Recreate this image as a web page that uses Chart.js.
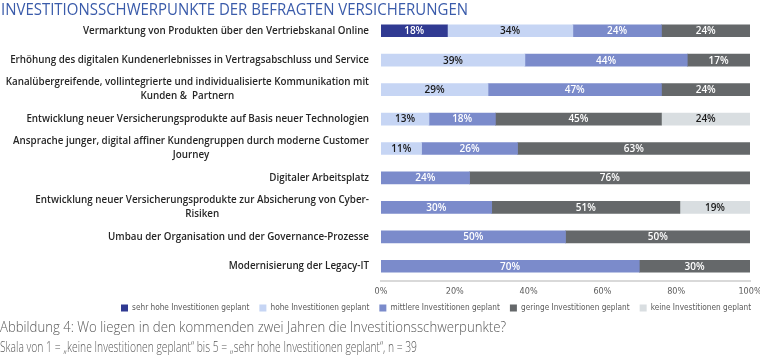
<!DOCTYPE html>
<html>
<head>
<meta charset="utf-8">
<script src="https://cdn.jsdelivr.net/npm/chart.js@4.4.1/dist/chart.umd.min.js"></script>
<style>
  html, body { margin: 0; padding: 0; background: #ffffff; }
  #wrap { position: relative; width: 760px; height: 357px; overflow: hidden; }
  #chart { position: absolute; left: 0; top: 0; }
  .txt { position: absolute; left: 0; white-space: nowrap; transform-origin: 0 0; display: inline-block; }
  #title { top: 0px; font-family: "Open Sans", sans-serif; font-weight: 400; font-size: 17px; line-height: 18px; color: #3A5BAA; left: 1px; }
  #cap1 { top: 318px; font-family: "Open Sans", sans-serif; font-weight: 300; font-size: 14px; line-height: 18px; color: #595959; }
  #cap2 { top: 338px; font-family: "Open Sans", sans-serif; font-weight: 300; font-size: 14px; line-height: 18px; color: #595959; }
</style>
</head>
<body>
<div id="wrap">
  <canvas id="chart" width="760" height="357"></canvas>
  <div id="title" class="txt">INVESTITIONSSCHWERPUNKTE DER BEFRAGTEN VERSICHERUNGEN</div>
  <div id="cap1" class="txt">Abbildung 4: Wo liegen in den kommenden zwei Jahren die Investitionsschwerpunkte?</div>
  <div id="cap2" class="txt">Skala von 1 = „keine Investitionen geplant“ bis 5 = „sehr hohe Investitionen geplant“, n = 39</div>
</div>
<script>
// ---------- DATA ----------
const categories = [
  ["Vermarktung von Produkten über den Vertriebskanal Online"],
  ["Erhöhung des digitalen Kundenerlebnisses in Vertragsabschluss und Service"],
  ["Kanalübergreifende, vollintegrierte und individualisierte Kommunikation mit", "Kunden &  Partnern"],
  ["Entwicklung neuer Versicherungsprodukte auf Basis neuer Technologien"],
  ["Ansprache junger, digital affiner Kundengruppen durch moderne Customer", "Journey"],
  ["Digitaler Arbeitsplatz"],
  ["Entwicklung neuer Versicherungsprodukte zur Absicherung von Cyber-", "Risiken"],
  ["Umbau der Organisation und der Governance-Prozesse"],
  ["Modernisierung der Legacy-IT"]
];
const seriesNames = [
  "sehr hohe Investitionen geplant",
  "hohe Investitionen geplant",
  "mittlere Investitionen geplant",
  "geringe Investitionen geplant",
  "keine Investitionen geplant"
];
const sehrHoch = [18, null, null, null, null, null, null, null, null];
const hoch     = [34, 39, 29, 13, 11, null, null, null, null];
const mittel   = [24, 44, 47, 18, 26, 24, 30, 50, 70];
const gering   = [24, 17, 24, 45, 63, 76, 51, 50, 30];
const keine    = [null, null, null, 24, null, null, 19, null, null];
const xTicks   = [0, 20, 40, 60, 80, 100];

// ---------- STYLE ----------
const colors = ["#303A92", "#C6D5F4", "#7B8BCB", "#65686A", "#D9DEE1"];
const labelColors = ["#ffffff", "#1a1a1a", "#ffffff", "#ffffff", "#1a1a1a"];
const narrowFont = '"Liberation Sans Narrow", "DejaVu Sans Condensed", "Liberation Sans", sans-serif';

function fit(id, target) {
  const el = document.getElementById(id);
  const w = el.getBoundingClientRect().width;
  el.style.transform = 'scaleX(' + (target / w) + ')';
}
fit('title', 467);
fit('cap1', 506);
fit('cap2', 417);

const yLabelPlugin = {
  id: 'yLabels',
  afterDraw(chart) {
    const ctx = chart.ctx;
    const ys = chart.scales.y;
    const right = chart.chartArea.left - 12;
    ctx.save();
    ctx.font = '600 10px "Open Sans", sans-serif';
    ctx.fillStyle = '#262626';
    ctx.textBaseline = 'middle';
    ctx.textAlign = 'center';
    const ref = ctx.measureText(categories[0][0]).width;
    const sx = 286 / ref;
    const lh = 14;
    categories.forEach((lines, i) => {
      const yc = ys.getPixelForValue(i);
      let maxW = 0;
      lines.forEach(l => { maxW = Math.max(maxW, ctx.measureText(l).width * sx); });
      const cx = right - maxW / 2;
      lines.forEach((l, k) => {
        const y = yc + (k - (lines.length - 1) / 2) * lh;
        ctx.save();
        ctx.translate(cx, y);
        ctx.scale(sx, 1);
        ctx.fillText(l, 0, 0);
        ctx.restore();
      });
    });
    ctx.restore();
  }
};

const valueLabelPlugin = {
  id: 'valueLabels',
  afterDatasetsDraw(chart) {
    const ctx = chart.ctx;
    ctx.save();
    ctx.font = '600 10px "Open Sans", sans-serif';
    ctx.textAlign = 'center';
    ctx.textBaseline = 'middle';
    chart.data.datasets.forEach((ds, di) => {
      const meta = chart.getDatasetMeta(di);
      meta.data.forEach((el, i) => {
        const v = ds.data[i];
        if (v === null || v === undefined) return;
        const p = el.getProps(['x', 'y', 'base'], true);
        ctx.fillStyle = labelColors[di];
        ctx.fillText(v + '%', (p.x + p.base) / 2, p.y + 0.5);
      });
    });
    ctx.restore();
  }
};

const seriesData = [sehrHoch, hoch, mittel, gering, keine];

new Chart(document.getElementById('chart'), {
  type: 'bar',
  data: {
    labels: categories,
    datasets: seriesNames.map((n, i) => ({
      label: n,
      data: seriesData[i],
      backgroundColor: colors[i],
      borderWidth: 0,
      barThickness: 12
    }))
  },
  options: {
    indexAxis: 'y',
    responsive: false,
    animation: false,
    layout: { padding: { top: 16, right: -8, bottom: 35, left: 111 } },
    scales: {
      x: {
        stacked: true,
        min: 0, max: 100,
        afterBuildTicks(scale) { scale.ticks = xTicks.map(v => ({ value: v })); },
        afterFit(scale) {
          scale.height = scale.height - 8;
          scale.paddingRight = 10;
        },
        grid: { display: false, drawTicks: false },
        border: { display: true, color: '#D9D9D9', width: 2 },
        ticks: {
          padding: 5,
          color: '#595959',
          font: { family: narrowFont, size: 9 },
          callback: v => v + '%'
        }
      },
      y: {
        stacked: true,
        grid: { display: false, drawTicks: false },
        border: { display: false },
        ticks: { display: false },
        afterFit(scale) { scale.width = 270; }
      }
    },
    plugins: {
      legend: {
        position: 'bottom',
        align: 'start',
        labels: {
          boxWidth: 7, boxHeight: 7, padding: 10,
          color: '#595959',
          font: { family: narrowFont, size: 8.2 }
        }
      },
      tooltip: { enabled: false }
    }
  },
  plugins: [yLabelPlugin, valueLabelPlugin]
});
</script>
</body>
</html>
